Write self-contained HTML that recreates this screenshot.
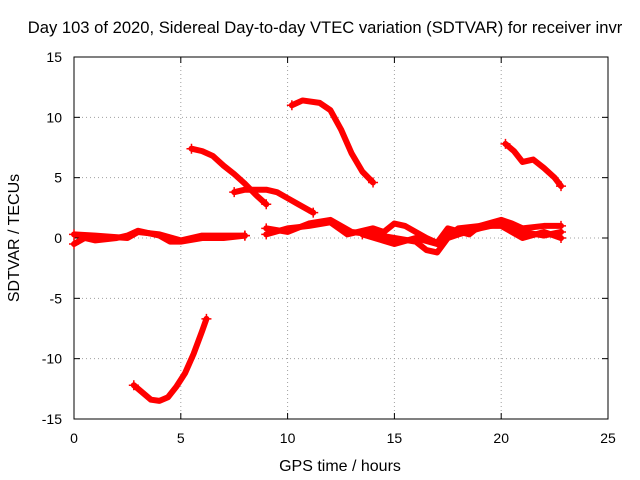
<!DOCTYPE html>
<html><head><meta charset="utf-8"><style>
body{margin:0;background:#fff;}
svg{display:block;font-family:"Liberation Sans",sans-serif;}
</style></head><body>
<svg id="c" width="640" height="480">
<rect width="640" height="480" fill="#fff"/>
<text x="325" y="33" font-size="16.6" text-anchor="middle">Day 103 of 2020, Sidereal Day-to-day VTEC variation (SDTVAR) for receiver invr</text>
<g id="grid"></g><g id="axes"></g><g id="series"></g>
<text x="340" y="471" font-size="16" text-anchor="middle">GPS time / hours</text>
<text x="19" y="238" font-size="16" text-anchor="middle" transform="rotate(-90 19 238)">SDTVAR / TECUs</text>
</svg>
<script>
const xTicks=[0,5,10,15,20,25];
const yTicks=[-15,-10,-5,0,5,10,15];
const arcLow=[[2.8,-12.2],[3.2,-12.8],[3.6,-13.4],[4.0,-13.5],[4.4,-13.2],[4.8,-12.3],[5.2,-11.2],[5.6,-9.6],[6.0,-7.7],[6.2,-6.7]];
const arc2=[[5.5,7.4],[6.0,7.2],[6.5,6.8],[7.0,6.0],[7.5,5.3],[8.0,4.5],[8.5,3.6],[9.0,2.8]];
const arc3=[[7.5,3.8],[8,4],[9,4],[9.5,3.8],[10,3.3],[10.5,2.8],[11.2,2.1]];
const arc4=[[10.2,11],[10.7,11.4],[11.5,11.2],[12,10.6],[12.5,9],[13,7],[13.5,5.5],[14,4.6]];
const arc5=[[20.2,7.8],[20.6,7.2],[21,6.3],[21.5,6.5],[22,5.8],[22.5,5],[22.8,4.3]];
const bandA=[[0,-0.5],[0.5,0],[1,-0.2],[2,0],[2.5,0.2],[3,0.6],[3.5,0.4],[4,0.2],[4.5,-0.3],[5,-0.3],[6,0],[7,0],[8,0.2]];
const bandB=[[0,0.3],[1,0.2],[2.5,0],[3,0.5],[4,0.3],[5,-0.2],[6,0.2],[7,0.2],[8,0.2]];
const bandC=[[9,0.8],[10,0.5],[11,1.2],[12,1.5],[13,0.5],[14,0.3],[15,0],[16,-0.3],[16.5,-1],[17,-1.2],[17.5,0],[18,0.3],[19,0.8],[20,1.2],[21,0.5],[22,0.2],[22.8,0.5]];
const bandD=[[9,0.3],[10,0.8],[11,1],[12,1.3],[12.8,0.3],[14,0.8],[14.5,0.5],[15,1.2],[15.5,1],[16,0.5],[16.5,0],[17,-0.4],[17.5,0.8],[18.5,0.3],[19,1],[20,1.5],[20.5,1.2],[21,0.8],[22,1],[22.8,1]];
const bandE=[[13.5,0.3],[15,-0.5],[16,0],[17,-0.5],[18,0.8],[19,1],[20,1],[21,0],[22,0.5],[22.8,0]];
const X0=74,X1=608,Y0=419,Y1=57;
const sx=v=>X0+(v-0)/25*(X1-X0);
const sy=v=>Y0-(v+15)/30*(Y0-Y1);
const NS='http://www.w3.org/2000/svg';
function mk(t,a,p){const e=document.createElementNS(NS,t);for(const k in a)e.setAttribute(k,a[k]);p.appendChild(e);return e;}
const g=document.getElementById('grid'),ax=document.getElementById('axes'),s=document.getElementById('series');
xTicks.forEach(t=>{const x=sx(t);
 if(t>0&&t<25){const l=mk('line',{x1:x,x2:x,y1:Y0,y2:Y1,stroke:'#a0a0a0','stroke-dasharray':'1,3'},g);
 
 }
 mk('line',{x1:x,x2:x,y1:Y0,y2:Y0-6,stroke:'#000'},ax);mk('line',{x1:x,x2:x,y1:Y1,y2:Y1+6,stroke:'#000'},ax);
 const tx=mk('text',{x:x,y:Y0+24,'font-size':14,'text-anchor':'middle'},ax);tx.textContent=t;
 
 });
yTicks.forEach(t=>{const y=sy(t);
 if(t>-15&&t<15){const l=mk('line',{x1:X0,x2:X1,y1:y,y2:y,stroke:'#a0a0a0','stroke-dasharray':'1,3'},g);
 
 }
 mk('line',{x1:X0,x2:X0+6,y1:y,y2:y,stroke:'#000'},ax);mk('line',{x1:X1,x2:X1-6,y1:y,y2:y,stroke:'#000'},ax);
 const tx=mk('text',{x:X0-12,y:y+5,'font-size':14,'text-anchor':'end'},ax);tx.textContent=t;
 
 });
const fr=mk('rect',{x:X0,y:Y1,width:X1-X0,height:Y0-Y1,fill:'none',stroke:'#000'},ax);


[['low-arc',arcLow],['arc-2',arc2],['arc-3',arc3],['arc-4',arc4],['arc-5',arc5],['band-a',bandA],['band-b',bandB],['band-c',bandC],['band-d',bandD],['band-e',bandE]].forEach(([n,d])=>{
 const p=mk('polyline',{points:d.map(q=>sx(q[0])+','+sy(q[1])).join(' '),fill:'none',stroke:'#f00','stroke-width':6,'stroke-linejoin':'round','stroke-linecap':'round'},s);
 
 
 [d[0],d[d.length-1]].forEach(q=>{const x=sx(q[0]),y=sy(q[1]);
  mk('path',{d:`M${x-5},${y}H${x+5}M${x},${y-5}V${y+5}`,stroke:'#f00','stroke-width':1.5},s);});
});
</script>
</body></html>
